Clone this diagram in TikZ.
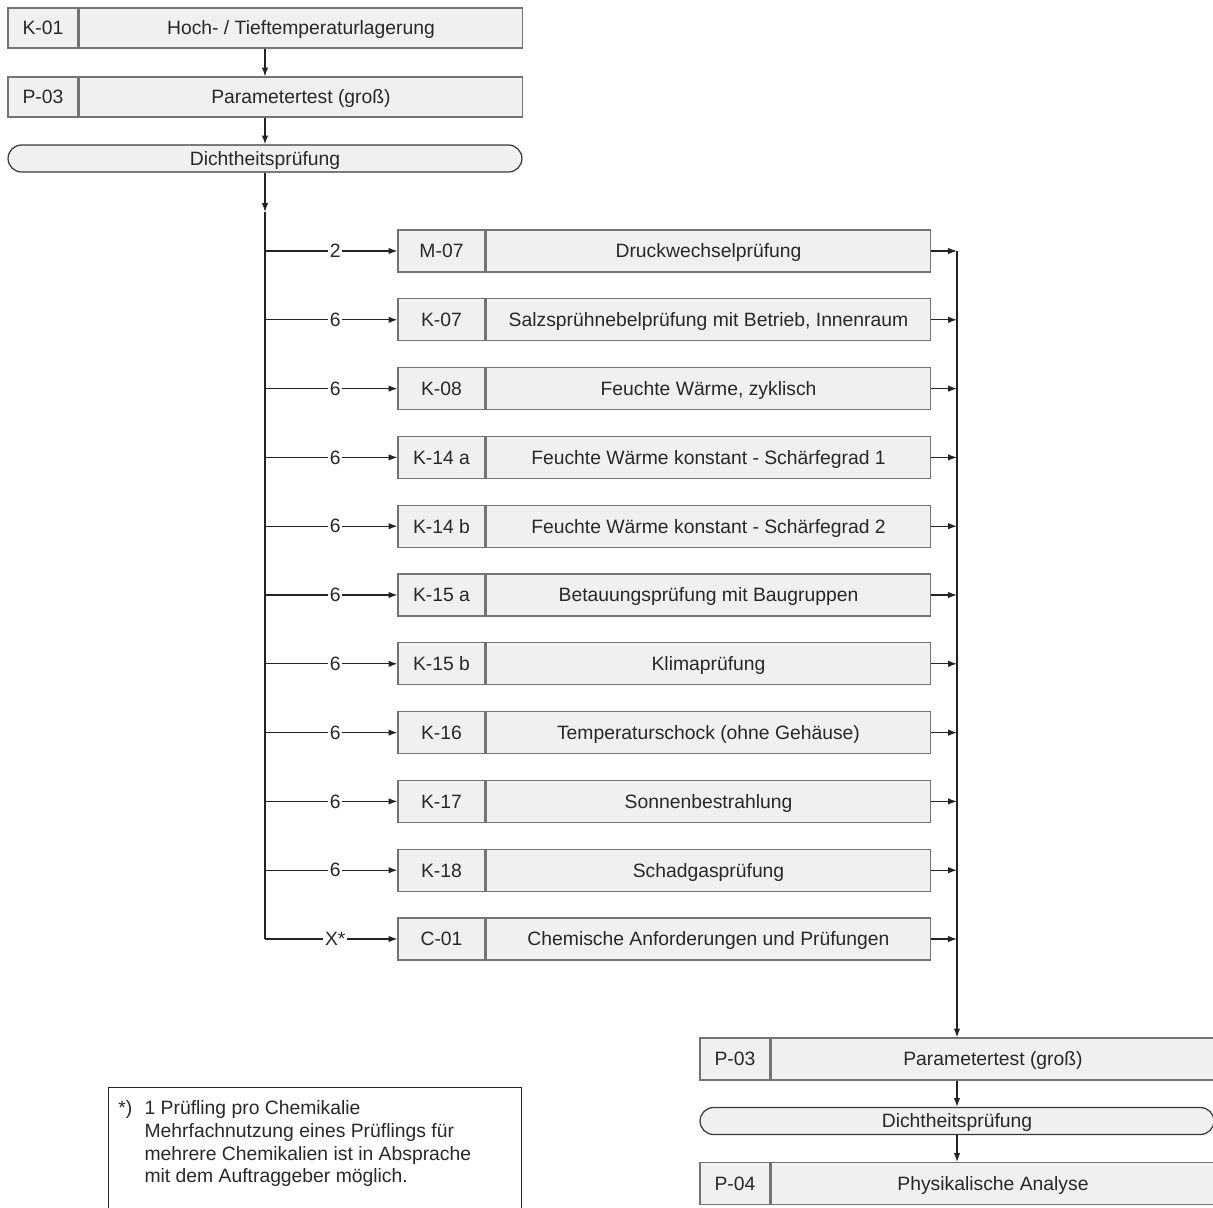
\documentclass[tikz,border=0pt]{standalone}
\usepackage{fontspec}
\setmainfont{Liberation Sans}
\usetikzlibrary{positioning,arrows.meta}
\definecolor{boxgray}{RGB}{240,240,240}
\definecolor{edgegray}{RGB}{115,115,115}
\definecolor{linegray}{RGB}{35,35,35}
\definecolor{textgray}{RGB}{40,40,40}
\tikzset{
    every node/.style={font=\fontsize{11}{13}\selectfont},
    codebox/.style={
        rectangle,
        draw=edgegray,
        fill=boxgray,
        line width=0.6pt,
        minimum width=1.4cm,
        minimum height=0.8cm,
        inner sep=1pt,
        text height=7.9pt,
        text depth=0pt,
        text=textgray
    },
    namebox/.style={codebox, minimum width=8.88cm},
    rowcode/.style={codebox, minimum width=1.74cm, minimum height=0.84cm},
    rowname/.style={rowcode, minimum width=8.9cm},
    pill/.style={
        rectangle,
        rounded corners=0.27cm,
        draw=linegray!90,
        fill=boxgray,
        line width=0.7pt,
        minimum width=10.28cm,
        minimum height=0.54cm,
        inner sep=0pt,
        text height=7.9pt,
        text depth=0pt,
        text=textgray
    },
    notebox/.style={
        rectangle,
        draw=linegray,
        fill=white,
        line width=0.7pt,
        anchor=north west,
        minimum width=8.26cm,
        minimum height=3cm
    },
    lbl/.style={fill=white, inner sep=1pt, text=textgray},
    ln/.style={line width=0.7pt, linegray},
    arr/.style={-{Latex[length=5pt,width=3.6pt]}, ln}
}

\begin{document}
\begin{tikzpicture}[x=0.02cm,y=-0.02cm]
\fill[white] (0,0) rectangle (1213,1207);
\useasboundingbox (0,0) rectangle (1213,1207);
\clip (0,0) rectangle (1213,1207);

% upper chain
\node[codebox] (k01c) at (43,28) {K-01};
\node[namebox, right=0pt of k01c] (k01n) {Hoch- / Tieftemperaturlagerung};
\node[codebox] (p03c) at (43,97) {P-03};
\node[namebox, right=0pt of p03c] (p03n) {Parametertest (groß)};
\node[pill] (dicht) at (265,158.5) {Dichtheitsprüfung};
\coordinate (split) at (265,212);
\coordinate (merge) at (957,251);

\draw[arr] (k01n.south -| dicht) -- (p03n.north -| dicht);
\draw[arr] (p03n.south -| dicht) -- (dicht.north);
\draw[arr] (dicht.south) -- (split);

% parallel test rows
\foreach \c/\t/\n [count=\i] in {
    M-07/Druckwechselprüfung/2,
    K-07/{Salzsprühnebelprüfung mit Betrieb, Innenraum}/6,
    K-08/{Feuchte Wärme, zyklisch}/6,
    K-14 a/Feuchte Wärme konstant - Schärfegrad 1/6,
    K-14 b/Feuchte Wärme konstant - Schärfegrad 2/6,
    K-15 a/Betauungsprüfung mit Baugruppen/6,
    K-15 b/Klimaprüfung/6,
    K-16/Temperaturschock (ohne Gehäuse)/6,
    K-17/Sonnenbestrahlung/6,
    K-18/Schadgasprüfung/6,
    C-01/Chemische Anforderungen und Prüfungen/X*}{
    \node[rowcode] (c\i) at (441.5,{251+(\i-1)*68.8}) {\c};
    \node[rowname, right=0pt of c\i] (t\i) {\t};
    \draw[arr] (c\i.west -| split) -- node[lbl, pos=0.53] {\n} (c\i.west);
    \draw[arr] (t\i.east) -- (t\i.east -| merge);
}
\draw[ln] (split) -- (c11.west -| split);

% lower chain
\node[codebox, minimum height=0.84cm] (p03bc) at (735,1059) {P-03};
\node[namebox, minimum height=0.84cm, right=0pt of p03bc] (p03bn) {Parametertest (groß)};
\node[pill] (dichtb) at (957,1121) {Dichtheitsprüfung};
\node[codebox, minimum height=0.84cm] (p04c) at (735,1183.5) {P-04};
\node[namebox, minimum height=0.84cm, right=0pt of p04c] (p04n) {Physikalische Analyse};

\draw[arr] (merge) -- (p03bn.north -| merge);
\draw[arr] (p03bn.south -| dichtb) -- (dichtb.north);
\draw[arr] (dichtb.south) -- (p04n.north -| dichtb);

% footnote
\node[notebox] (note) at (108,1087) {};
\node[anchor=north west, inner sep=0pt, text=textgray] (notetext) at (118,1098) {%
    \begin{tabular}{@{}l@{\hspace{7pt}}l@{}}
    *) & 1 Prüfling pro Chemikalie\\
       & Mehrfachnutzung eines Prüflings für\\
       & mehrere Chemikalien ist in Absprache\\
       & mit dem Auftraggeber möglich.
    \end{tabular}};
\end{tikzpicture}
\end{document}
